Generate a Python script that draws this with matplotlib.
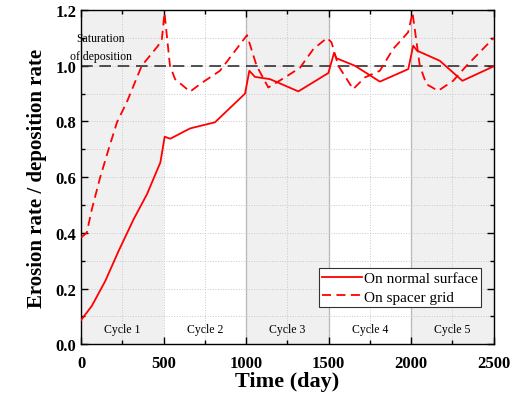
import matplotlib
matplotlib.use("Agg")
import matplotlib.pyplot as plt
from matplotlib.ticker import MultipleLocator

# erosion/deposition ratio on normal surface
normal_day = [0, 65, 146, 227, 318, 399, 480, 506, 540, 660, 811, 993, 1019, 1053,
              1144, 1316, 1498, 1532, 1547, 1659, 1810, 1982, 2012, 2036, 2173, 2310, 2500]
normal_val = [0.087, 0.138, 0.227, 0.335, 0.449, 0.539, 0.653, 0.745, 0.738, 0.775, 0.797, 0.900,
              0.982, 0.960, 0.952, 0.908, 0.974, 1.046, 1.027, 1.000, 0.943, 0.988, 1.072,
              1.054, 1.018, 0.946, 0.998]

# on spacer grid
grid_day = [0, 34, 65, 115, 166, 217, 277, 367, 458, 488, 505, 538, 569, 660, 720, 841,
            1005, 1063, 1134, 1184, 1245, 1326, 1407, 1490, 1517, 1558, 1648, 1719, 1810,
            1890, 1981, 2008, 2052, 2092, 2163, 2254, 2335, 2500]
grid_val = [0.383, 0.401, 0.485, 0.599, 0.700, 0.797, 0.870, 1.000, 1.066, 1.090, 1.190, 1.000,
            0.952, 0.907, 0.934, 0.982, 1.110, 1.000, 0.922, 0.940, 0.962, 0.993, 1.060, 1.100,
            1.084, 1.000, 0.916, 0.958, 0.982, 1.060, 1.120, 1.190, 1.000, 0.934, 0.910,
            0.946, 1.000, 1.100]

cycles = ["Cycle 1", "Cycle 2", "Cycle 3", "Cycle 4", "Cycle 5"]
cycle_len = 500

plt.rcParams["font.family"] = ["Liberation Serif", "DejaVu Serif"]

fig = plt.figure(figsize=(5.17, 4.10), dpi=100)
ax = fig.add_axes([0.157, 0.158, 0.798, 0.815])

for i, name in enumerate(cycles):
    x0 = i * cycle_len
    if i % 2 == 0:
        ax.axvspan(x0, x0 + cycle_len, color="#f0f0f0", lw=0, zorder=0)
    ax.text(x0 + cycle_len / 2, 0.055, name, ha="center", va="center", fontsize=8.5)
for x in [1000, 1500, 2000]:
    ax.axvline(x, color="#b0b0b0", lw=0.9, zorder=1)

ax.grid(True, which="both", color="#c8c8c8", ls=":", lw=0.7, zorder=0.5)
ax.axhline(1.0, color="#333333", ls=(0, (7, 4)), lw=1.2, zorder=2)

ax.plot(normal_day, normal_val, color="red", lw=1.3, label="On normal surface", zorder=3)
ax.plot(grid_day, grid_val, color="red", lw=1.3, ls=(0, (5, 3)), label="On spacer grid", zorder=3)

ax.text(118, 1.068, "Saturation\nof deposition", ha="center", va="center",
        fontsize=8.5, linespacing=1.6)

ax.set_xlim(0, 2500)
ax.set_ylim(0, 1.2)
ax.xaxis.set_major_locator(MultipleLocator(500))
ax.xaxis.set_minor_locator(MultipleLocator(250))
ax.yaxis.set_major_locator(MultipleLocator(0.2))
ax.yaxis.set_minor_locator(MultipleLocator(0.1))
ax.yaxis.set_major_formatter(matplotlib.ticker.FormatStrFormatter("%.1f"))
ax.tick_params(which="both", direction="in", top=True, right=True, width=1)
ax.tick_params(which="major", length=5, labelsize=12)
ax.tick_params(axis="x", which="major", pad=8)
ax.tick_params(which="minor", length=3)
for lab in ax.get_xticklabels() + ax.get_yticklabels():
    lab.set_fontweight("bold")
for s in ax.spines.values():
    s.set_linewidth(1.0)

ax.set_xlabel("Time (day)", fontsize=16, fontweight="bold", labelpad=0)
ax.set_ylabel("Erosion rate / deposition rate", fontsize=15, fontweight="bold", labelpad=6)

leg = ax.legend(loc="lower right", bbox_to_anchor=(0.97, 0.11), fontsize=11,
                frameon=True, fancybox=False, edgecolor="#333333", handlelength=2.6,
                handletextpad=0.1, borderpad=0.25, labelspacing=0.3, borderaxespad=0)
leg.get_frame().set_linewidth(0.8)
leg.get_frame().set_facecolor("white")
leg.get_frame().set_alpha(1)

fig.savefig("out.png", dpi=100)
